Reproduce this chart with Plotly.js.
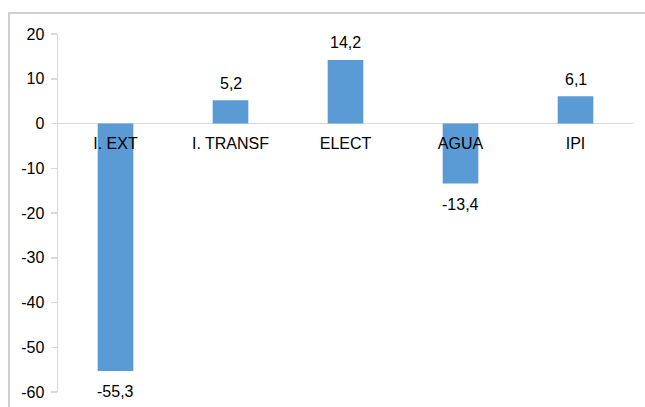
<!DOCTYPE html>
<html>
<head>
<meta charset="utf-8">
<script src="https://cdn.plot.ly/plotly-3.0.1.min.js"></script>
<style>
  html, body { margin: 0; padding: 0; background: #fff; }
  #frame { position: absolute; left: 8px; top: 12px; width: 640px; height: 400px;
           border-left: 2px solid #cfcfcf; border-top: 2px solid #cfcfcf; }
  #chart { position: absolute; left: 0; top: 0; width: 645px; height: 407px; }
</style>
</head>
<body>
<div id="frame"></div>
<div id="chart"></div>
<script>
const categories = ["I. EXT", "I. TRANSF", "ELECT", "AGUA", "IPI"];
const values = [-55.3, 5.2, 14.2, -13.4, 6.1];
const yTickValues = [20, 10, 0, -10, -20, -30, -40, -50, -60];
const yTickLabels = ["20", "10", "0", "-10", "-20", "-30", "-40", "-50", "-60"];

const font = { family: "Liberation Sans, Arial, sans-serif", size: 16, color: "#000" };

const trace = {
  type: "bar",
  x: categories,
  y: values,
  marker: { color: "#5b9bd5", line: { width: 0 } },
  width: 0.31,
  hoverinfo: "skip"
};

const annotations = values.map((v, i) => ({
  x: categories[i],
  y: v,
  xref: "x",
  yref: "y",
  text: v.toFixed(1).replace(".", ","),
  showarrow: false,
  yanchor: "middle",
  yshift: v >= 0 ? 17 : -21,
  font: font
}));

const layout = {
  width: 645,
  height: 407,
  margin: { l: 58, r: 12, t: 34, b: 15 },
  paper_bgcolor: "rgba(0,0,0,0)",
  plot_bgcolor: "rgba(0,0,0,0)",
  showlegend: false,
  font: font,
  xaxis: {
    type: "category",
    anchor: "free",
    position: 0.75,
    showline: false,
    showgrid: false,
    zeroline: false,
    ticks: "",
    ticklabelstandoff: 8,
    tickfont: font,
    fixedrange: true
  },
  yaxis: {
    range: [-60, 20],
    tickvals: yTickValues,
    ticktext: yTickLabels,
    showline: true,
    linecolor: "#d9d9d9",
    linewidth: 1.5,
    showgrid: false,
    zeroline: true,
    zerolinecolor: "#d9d9d9",
    zerolinewidth: 1.5,
    ticks: "outside",
    ticklen: 6,
    tickcolor: "#d9d9d9",
    tickwidth: 1.5,
    ticklabelstandoff: 3,
    tickfont: font,
    fixedrange: true
  },
  annotations: annotations
};

Plotly.newPlot("chart", [trace], layout, { displayModeBar: false, staticPlot: true });
</script>
</body>
</html>
